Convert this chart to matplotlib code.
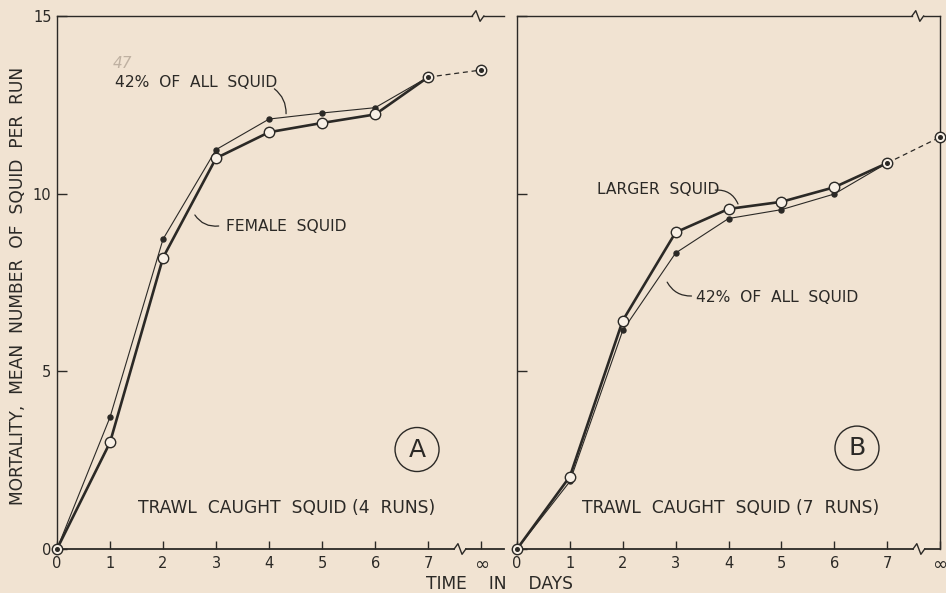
import matplotlib
matplotlib.use("Agg")
import matplotlib.pyplot as plt

# ---------------- data ----------------
days = [0, 1, 2, 3, 4, 5, 6, 7]
inf_pos = 8
x_tick_labels = ["0", "1", "2", "3", "4", "5", "6", "7", "\u221e"]
y_ticks = [0, 5, 10, 15]

# Panel A (trawl caught squid, 4 runs)
a_female = [0, 3.0, 8.2, 11.0, 11.73, 11.99, 12.23, 13.28]
a_all42 = [0, 3.71, 8.72, 11.24, 12.10, 12.27, 12.42, 13.28]
a_inf = 13.48

# Panel B (trawl caught squid, 7 runs)
b_larger = [0, 2.04, 6.43, 8.91, 9.57, 9.77, 10.18, 10.86]
b_all42 = [0, 1.9, 6.15, 8.33, 9.30, 9.55, 9.99, 10.86]
b_inf = 11.59

BG = "#f1e3d2"
INK = "#2b2926"
FONT = "DejaVu Sans"

plt.rcParams["font.family"] = [FONT]

fig = plt.figure(figsize=(9.46, 5.93), dpi=100, facecolor=BG)
W, H = 946, 593
axA = fig.add_axes([57 / W, 1 - 549 / H, 447 / W, 533 / H])
axB = fig.add_axes([517 / W, 1 - 549 / H, 423 / W, 533 / H])


def zigzag(ax, xc, yax, half=0.11, h=0.010):
    tr = ax.get_xaxis_transform()
    xs = [xc - half, xc - half * 0.35, xc + half * 0.35, xc + half]
    ys = [yax, yax + h, yax - h, yax]
    ax.plot(xs, ys, color=INK, lw=1.0, transform=tr, clip_on=False, zorder=5)


def setup(ax, xmax, brk_top, brk_bot, right_spine):
    ax.set_facecolor("none")
    ax.set_xlim(0, xmax)
    ax.set_ylim(0, 15)
    for s in ["top", "bottom", "right"]:
        ax.spines[s].set_visible(False)
    ax.spines["left"].set_color(INK)
    ax.spines["left"].set_linewidth(1.0)
    if right_spine:
        ax.spines["right"].set_visible(True)
        ax.spines["right"].set_color(INK)
        ax.spines["right"].set_linewidth(1.0)
    tr = ax.get_xaxis_transform()
    # top border with break
    ax.plot([0, brk_top - 0.11], [1, 1], color=INK, lw=1.0, transform=tr, clip_on=False)
    ax.plot([brk_top + 0.11, xmax], [1, 1], color=INK, lw=1.0, transform=tr, clip_on=False)
    zigzag(ax, brk_top, 1)
    # bottom border with break
    ax.plot([0, brk_bot - 0.11], [0, 0], color=INK, lw=1.3, transform=tr, clip_on=False)
    ax.plot([brk_bot + 0.11, xmax], [0, 0], color=INK, lw=1.3, transform=tr, clip_on=False)
    zigzag(ax, brk_bot, 0)
    ax.set_xticks(days + [inf_pos])
    ax.set_xticklabels(x_tick_labels)
    ax.tick_params(axis="x", direction="in", length=6, width=1.0, color=INK,
                   labelsize=10.5, labelcolor=INK, pad=5)
    ax.get_xticklabels()[-1].set_fontsize(13)
    ax.set_yticks(y_ticks)
    ax.tick_params(axis="y", direction="in", length=7, width=1.0, color=INK,
                   labelsize=10.5, labelcolor=INK, pad=4)


setup(axA, 8.43, 7.94, 7.6, False)
setup(axB, 8.0, 7.58, 7.6, True)
axB.set_yticklabels([])
axB.tick_params(axis="y", which="both", right=False)


def draw_panel(ax, thick, thin, inf_val):
    # thin line with filled dots (42% of all squid)
    ax.plot(days[:-1], thin[:-1], color=INK, lw=0.8, marker="o", ms=3.6,
            mfc=INK, mec=INK, zorder=3)
    ax.plot(days[-2:], thin[-2:], color=INK, lw=0.8, zorder=3)
    # thick line with open circles
    ax.plot(days, thick, color=INK, lw=1.9, zorder=4)
    ax.plot(days[1:-1], thick[1:-1], ls="none", marker="o", ms=7.5,
            mfc="#f8f0e6", mec=INK, mew=1.0, zorder=5)
    # dashed extension to infinity
    ax.plot([days[-1], inf_pos], [thick[-1], inf_val], color=INK, lw=0.9,
            ls=(0, (4, 3)), zorder=3, clip_on=False)
    # circled dots at 0, 7 and infinity
    xs = [days[0], days[-1], inf_pos]
    ys = [thick[0], thick[-1], inf_val]
    ax.plot(xs, ys, ls="none", marker="o", ms=7.5, mfc="#f8f0e6", mec=INK,
            mew=1.0, zorder=6, clip_on=False)
    ax.plot(xs, ys, ls="none", marker="o", ms=2.6, mfc=INK, mec=INK,
            zorder=7, clip_on=False)


draw_panel(axA, a_female, a_all42, a_inf)
draw_panel(axB, b_larger, b_all42, b_inf)

txt_kw = dict(color=INK, fontsize=11.2, fontfamily=FONT)
lead = dict(arrowstyle="-", color=INK, lw=0.9, shrinkA=0, shrinkB=0)

# Panel A annotations
axA.text(1.09, 13.12, "42%  OF  ALL  SQUID", ha="left", va="center", **txt_kw)
axA.annotate("", xy=(4.32, 12.25), xytext=(4.1, 12.95),
             arrowprops=dict(connectionstyle="arc3,rad=-0.25", **lead))
axA.text(1.05, 13.65, "47", ha="left", va="center", color="#b3a596",
         fontsize=11, style="italic", alpha=0.8)
axA.text(3.19, 9.09, "FEMALE  SQUID", ha="left", va="center", **txt_kw)
axA.annotate("", xy=(2.6, 9.4), xytext=(3.05, 9.09),
             arrowprops=dict(connectionstyle="arc3,rad=-0.3", **lead))
axA.text(1.53, 1.14, "TRAWL  CAUGHT  SQUID (4  RUNS)", ha="left", va="center",
         color=INK, fontsize=12.3)
axA.text(6.79, 2.8, "A", ha="center", va="center", color=INK, fontsize=18,
         bbox=dict(boxstyle="circle,pad=0.4", fc="none", ec=INK, lw=1.0))

# Panel B annotations
axB.text(1.51, 10.13, "LARGER  SQUID", ha="left", va="center", **txt_kw)
axB.annotate("", xy=(4.18, 9.71), xytext=(3.75, 10.1),
             arrowprops=dict(connectionstyle="arc3,rad=-0.35", **lead))
axB.text(3.38, 7.09, "42%  OF  ALL  SQUID", ha="left", va="center", **txt_kw)
axB.annotate("", xy=(2.84, 7.51), xytext=(3.3, 7.12),
             arrowprops=dict(connectionstyle="arc3,rad=-0.3", **lead))
axB.text(1.22, 1.14, "TRAWL  CAUGHT  SQUID (7  RUNS)", ha="left", va="center",
         color=INK, fontsize=12.3)
axB.text(6.43, 2.84, "B", ha="center", va="center", color=INK, fontsize=18,
         bbox=dict(boxstyle="circle,pad=0.4", fc="none", ec=INK, lw=1.0))

# axis labels
fig.text(18 / W, 1 - 286 / H, "MORTALITY,  MEAN  NUMBER  OF  SQUID  PER  RUN",
         rotation=90, ha="center", va="center", color=INK, fontsize=12.3)
fig.text(499 / W, 1 - 584 / H, "TIME    IN    DAYS", ha="center", va="center",
         color=INK, fontsize=12.3)

fig.savefig("out.png", dpi=100, facecolor=BG)
